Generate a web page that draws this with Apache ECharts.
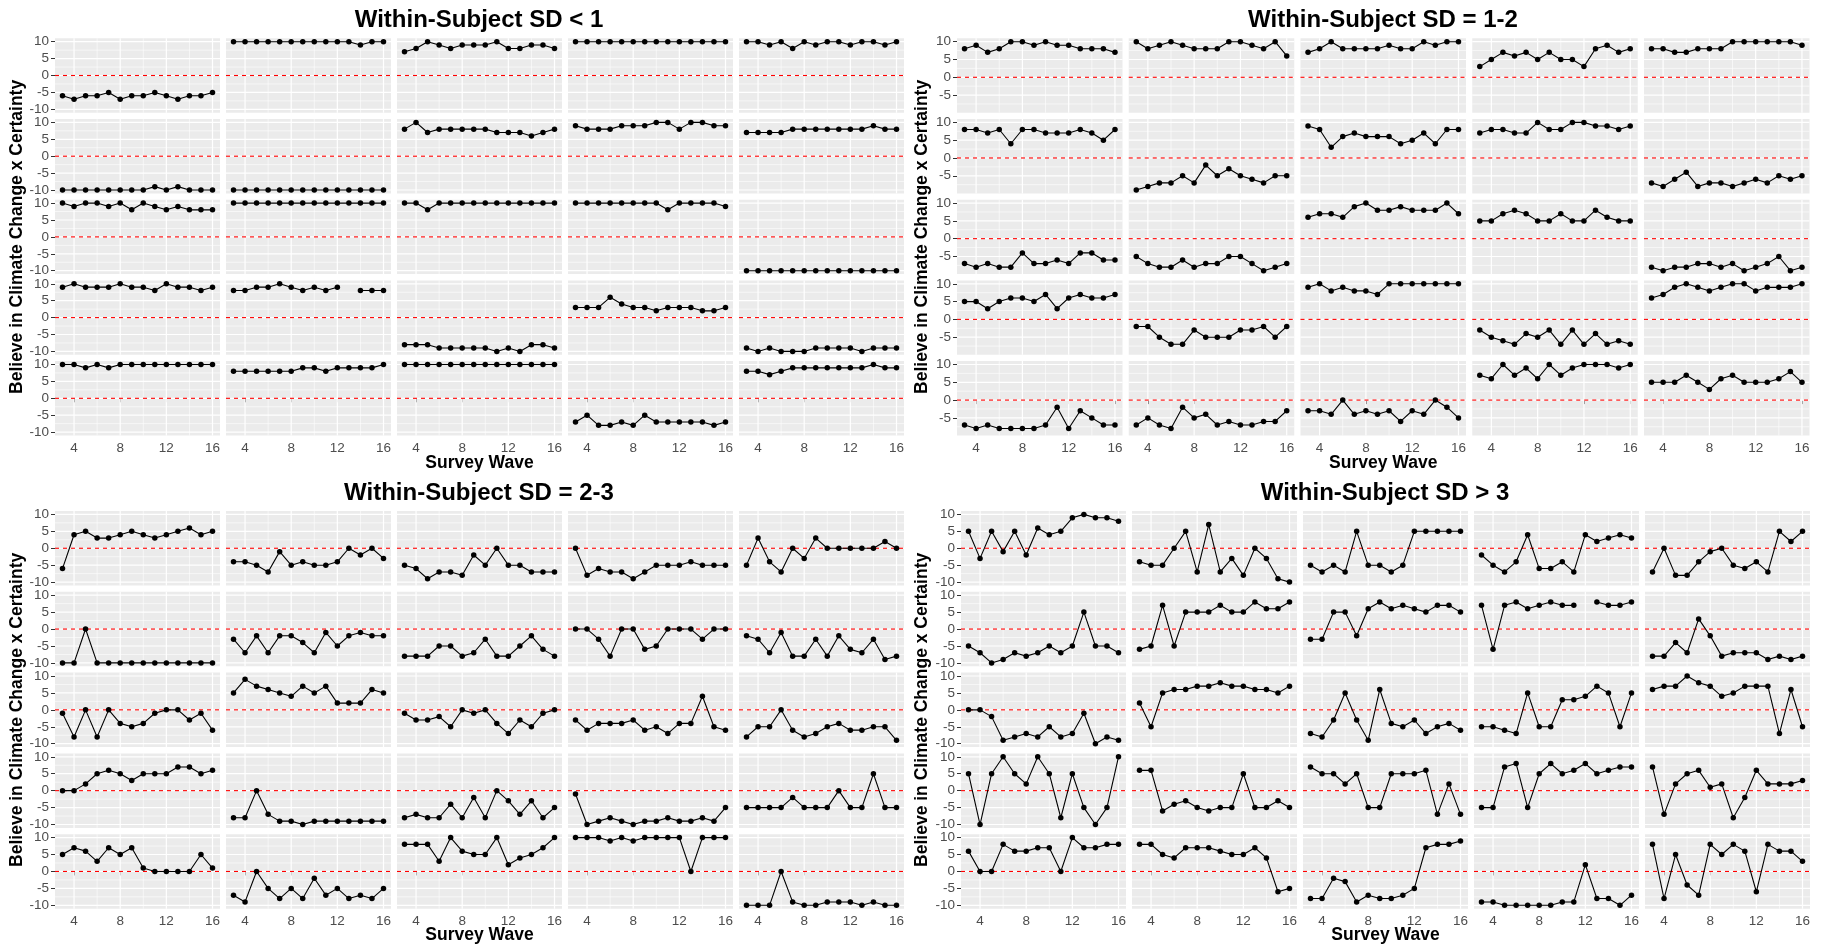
<!DOCTYPE html>
<html>
<head>
<meta charset="utf-8">
<script src="https://cdn.jsdelivr.net/npm/echarts@6/dist/echarts.min.js"></script>
<style>
  html, body { margin: 0; padding: 0; background: #ffffff; }
  #chart { width: 1821px; height: 946px; }
</style>
</head>
<body>
<div id="chart"></div>
<script>
// Survey waves on the x axis
const waves = [3, 4, 5, 6, 7, 8, 9, 10, 11, 12, 13, 14, 15, 16];
const waveTicks = [4, 8, 12, 16];
const waveMinor = [6, 10, 14];

const panelTitles = [
  'Within-Subject SD < 1',
  'Within-Subject SD = 1-2',
  'Within-Subject SD = 2-3',
  'Within-Subject SD > 3'
];
const yTitle = 'Believe in Climate Change x Certainty';
const xTitle = 'Survey Wave';

const yTicksFull = [-10, -5, 0, 5, 10];
const yMinorFull = [-7.5, -2.5, 2.5, 7.5];
const yTicksShort = [-5, 0, 5, 10];
const yMinorShort = [-7.5, -2.5, 2.5, 7.5];

// One row per respondent (5 x 5 facets, row-major), values for waves 3..16
const sdBelow1 = [
  [-6, -7, -6, -6, -5, -7, -6, -6, -5, -6, -7, -6, -6, -5],
  [10, 10, 10, 10, 10, 10, 10, 10, 10, 10, 10, 9, 10, 10],
  [7, 8, 10, 9, 8, 9, 9, 9, 10, 8, 8, 9, 9, 8],
  [10, 10, 10, 10, 10, 10, 10, 10, 10, 10, 10, 10, 10, 10],
  [10, 10, 9, 10, 8, 10, 9, 10, 10, 9, 10, 10, 9, 10],

  [-10, -10, -10, -10, -10, -10, -10, -10, -9, -10, -9, -10, -10, -10],
  [-10, -10, -10, -10, -10, -10, -10, -10, -10, -10, -10, -10, -10, -10],
  [8, 10, 7, 8, 8, 8, 8, 8, 7, 7, 7, 6, 7, 8],
  [9, 8, 8, 8, 9, 9, 9, 10, 10, 8, 10, 10, 9, 9],
  [7, 7, 7, 7, 8, 8, 8, 8, 8, 8, 8, 9, 8, 8],

  [10, 9, 10, 10, 9, 10, 8, 10, 9, 8, 9, 8, 8, 8],
  [10, 10, 10, 10, 10, 10, 10, 10, 10, 10, 10, 10, 10, 10],
  [10, 10, 8, 10, 10, 10, 10, 10, 10, 10, 10, 10, 10, 10],
  [10, 10, 10, 10, 10, 10, 10, 10, 8, 10, 10, 10, 10, 9],
  [-10, -10, -10, -10, -10, -10, -10, -10, -10, -10, -10, -10, -10, -10],

  [9, 10, 9, 9, 9, 10, 9, 9, 8, 10, 9, 9, 8, 9],
  [8, 8, 9, 9, 10, 9, 8, 9, 8, 9, null, 8, 8, 8],
  [-8, -8, -8, -9, -9, -9, -9, -9, -10, -9, -10, -8, -8, -9],
  [3, 3, 3, 6, 4, 3, 3, 2, 3, 3, 3, 2, 2, 3],
  [-9, -10, -9, -10, -10, -10, -9, -9, -9, -9, -10, -9, -9, -9],

  [10, 10, 9, 10, 9, 10, 10, 10, 10, 10, 10, 10, 10, 10],
  [8, 8, 8, 8, 8, 8, 9, 9, 8, 9, 9, 9, 9, 10],
  [10, 10, 10, 10, 10, 10, 10, 10, 10, 10, 10, 10, 10, 10],
  [-7, -5, -8, -8, -7, -8, -5, -7, -7, -7, -7, -7, -8, -7],
  [8, 8, 7, 8, 9, 9, 9, 9, 9, 9, 9, 10, 9, 9]
];

const sd1to2 = [
  [8, 9, 7, 8, 10, 10, 9, 10, 9, 9, 8, 8, 8, 7],
  [10, 8, 9, 10, 9, 8, 8, 8, 10, 10, 9, 8, 10, 6],
  [7, 8, 10, 8, 8, 8, 8, 9, 8, 8, 10, 9, 10, 10],
  [3, 5, 7, 6, 7, 5, 7, 5, 5, 3, 8, 9, 7, 8],
  [8, 8, 7, 7, 8, 8, 8, 10, 10, 10, 10, 10, 10, 9],

  [8, 8, 7, 8, 4, 8, 8, 7, 7, 7, 8, 7, 5, 8],
  [-9, -8, -7, -7, -5, -7, -2, -5, -3, -5, -6, -7, -5, -5],
  [9, 8, 3, 6, 7, 6, 6, 6, 4, 5, 7, 4, 8, 8],
  [7, 8, 8, 7, 7, 10, 8, 8, 10, 10, 9, 9, 8, 9],
  [-7, -8, -6, -4, -8, -7, -7, -8, -7, -6, -7, -5, -6, -5],

  [-7, -8, -7, -8, -8, -4, -7, -7, -6, -7, -4, -4, -6, -6],
  [-5, -7, -8, -8, -6, -8, -7, -7, -5, -5, -7, -9, -8, -7],
  [6, 7, 7, 6, 9, 10, 8, 8, 9, 8, 8, 8, 10, 7],
  [5, 5, 7, 8, 7, 5, 5, 7, 5, 5, 8, 6, 5, 5],
  [-8, -9, -8, -8, -7, -7, -8, -7, -9, -8, -7, -5, -9, -8],

  [5, 5, 3, 5, 6, 6, 5, 7, 3, 6, 7, 6, 6, 7],
  [-2, -2, -5, -7, -7, -3, -5, -5, -5, -3, -3, -2, -5, -2],
  [9, 10, 8, 9, 8, 8, 7, 10, 10, 10, 10, 10, 10, 10],
  [-3, -5, -6, -7, -4, -5, -3, -7, -3, -7, -4, -7, -6, -7],
  [6, 7, 9, 10, 9, 8, 9, 10, 10, 8, 9, 9, 9, 10],

  [-7, -8, -7, -8, -8, -8, -8, -7, -2, -8, -3, -5, -7, -7],
  [-7, -5, -7, -8, -2, -5, -4, -7, -6, -7, -7, -6, -6, -3],
  [-3, -3, -4, 0, -4, -3, -4, -3, -6, -3, -4, 0, -2, -5],
  [7, 6, 10, 7, 9, 6, 10, 7, 9, 10, 10, 10, 9, 10],
  [5, 5, 5, 7, 5, 3, 6, 7, 5, 5, 5, 6, 8, 5]
];

const sd2to3 = [
  [-6, 4, 5, 3, 3, 4, 5, 4, 3, 4, 5, 6, 4, 5],
  [-4, -4, -5, -7, -1, -5, -4, -5, -5, -4, 0, -2, 0, -3],
  [-5, -6, -9, -7, -7, -8, -2, -5, 0, -5, -5, -7, -7, -7],
  [0, -8, -6, -7, -7, -9, -7, -5, -5, -5, -4, -5, -5, -5],
  [-5, 3, -4, -7, 0, -3, 3, 0, 0, 0, 0, 0, 2, 0],

  [-10, -10, 0, -10, -10, -10, -10, -10, -10, -10, -10, -10, -10, -10],
  [-3, -7, -2, -7, -2, -2, -4, -7, -1, -5, -2, -1, -2, -2],
  [-8, -8, -8, -5, -5, -8, -7, -3, -8, -8, -5, -2, -6, -8],
  [0, 0, -3, -8, 0, 0, -6, -5, 0, 0, 0, -3, 0, 0],
  [-2, -3, -7, -1, -8, -8, -3, -8, -2, -6, -7, -3, -9, -8],

  [-1, -8, 0, -8, 0, -4, -5, -4, -1, 0, 0, -3, -1, -6],
  [5, 9, 7, 6, 5, 4, 7, 5, 7, 2, 2, 2, 6, 5],
  [-1, -3, -3, -2, -5, 0, -1, 0, -4, -7, -3, -5, -1, 0],
  [-3, -6, -4, -4, -4, -3, -6, -5, -7, -4, -4, 4, -5, -6],
  [-8, -5, -5, 0, -6, -8, -7, -5, -4, -6, -6, -5, -5, -9],

  [0, 0, 2, 5, 6, 5, 3, 5, 5, 5, 7, 7, 5, 6],
  [-8, -8, 0, -7, -9, -9, -10, -9, -9, -9, -9, -9, -9, -9],
  [-8, -7, -8, -8, -4, -8, -2, -8, 0, -3, -7, -3, -8, -5],
  [-1, -10, -9, -8, -9, -10, -9, -9, -8, -9, -9, -8, -9, -5],
  [-5, -5, -5, -5, -2, -5, -5, -5, 0, -5, -5, 5, -5, -5],

  [5, 7, 6, 3, 7, 5, 7, 1, 0, 0, 0, 0, 5, 1],
  [-7, -9, 0, -5, -8, -5, -8, -2, -7, -5, -8, -7, -8, -5],
  [8, 8, 8, 3, 10, 6, 5, 5, 10, 2, 4, 5, 7, 10],
  [10, 10, 10, 9, 10, 9, 10, 10, 10, 10, 0, 10, 10, 10],
  [-10, -10, -10, 0, -9, -10, -10, -9, -9, -9, -10, -9, -10, -10]
];

const sdAbove3 = [
  [5, -3, 5, -1, 5, -2, 6, 4, 5, 9, 10, 9, 9, 8],
  [-4, -5, -5, 0, 5, -7, 7, -7, -3, -8, 0, -3, -9, -10],
  [-5, -7, -5, -7, 5, -5, -5, -7, -5, 5, 5, 5, 5, 5],
  [-2, -5, -7, -4, 4, -6, -6, -4, -7, 4, 2, 3, 4, 3],
  [-7, 0, -8, -8, -4, -1, 0, -5, -6, -4, -7, 5, 2, 5],

  [-5, -7, -10, -9, -7, -8, -7, -5, -7, -5, 5, -5, -5, -7],
  [-6, -5, 7, -5, 5, 5, 5, 7, 5, 5, 8, 6, 6, 8],
  [-3, -3, 5, 5, -2, 6, 8, 6, 7, 6, 5, 7, 7, 5],
  [7, -6, 7, 8, 6, 7, 8, 7, 7, null, 8, 7, 7, 8],
  [-8, -8, -4, -7, 3, -2, -8, -7, -7, -7, -9, -8, -9, -8],

  [0, 0, -2, -9, -8, -7, -8, -5, -8, -7, -1, -10, -8, -9],
  [2, -5, 5, 6, 6, 7, 7, 8, 7, 7, 6, 6, 5, 7],
  [-7, -8, -3, 5, -3, -9, 6, -4, -5, -3, -7, -5, -4, -6],
  [-5, -5, -6, -7, 5, -5, -5, 3, 3, 4, 7, 5, -5, 5],
  [6, 7, 7, 10, 8, 7, 4, 5, 7, 7, 7, -7, 6, -5],

  [5, -10, 5, 10, 5, 2, 10, 5, -8, 5, -5, -10, -5, 10],
  [6, 6, -6, -4, -3, -5, -6, -5, -5, 5, -5, -5, -3, -5],
  [7, 5, 5, 2, 5, -5, -5, 5, 5, 5, 6, -7, 2, -7],
  [-5, -5, 7, 8, -5, 5, 8, 5, 6, 8, 5, 6, 7, 7],
  [7, -7, 2, 5, 6, 1, 2, -8, -2, 6, 2, 2, 2, 3],

  [6, 0, 0, 8, 6, 6, 7, 7, 0, 10, 7, 7, 8, 8],
  [8, 8, 5, 4, 7, 7, 7, 6, 5, 5, 7, 4, -6, -5],
  [-8, -8, -2, -3, -9, -7, -8, -8, -7, -5, 7, 8, 8, 9],
  [-9, -9, -10, -10, -10, -10, -10, -9, -9, 2, -8, -8, -10, -7],
  [8, -8, 5, -4, -7, 8, 5, 8, 6, -6, 8, 6, 6, 3]
];

// Layout of the four facet blocks (pixel geometry)
const FONT = '"Liberation Sans", Arial, Helvetica, sans-serif';
const X_MIN = 2.35, X_MAX = 16.65;
const blocks = [
  { rows: sdBelow1, left: 55,  top: 38.3, colStep: 171,    w: 165,   rowStep: 80.7, h: 74.4,
    yMin: -11, yMax: 11, yTicks: yTicksFull, yMinor: yMinorFull,
    titleX: 479, titleY: 20, yTitleX: 17, xTitleY: 463 },
  { rows: sd1to2,   left: 957, top: 38.3, colStep: 171.75, w: 165.5, rowStep: 80.7, h: 74.4,
    yMin: -9.95, yMax: 10.95, yTicks: yTicksShort, yMinor: yMinorShort,
    titleX: 1383, titleY: 20, yTitleX: 922, xTitleY: 463 },
  { rows: sd2to3,   left: 55,  top: 511,  colStep: 171,    w: 165,   rowStep: 80.8, h: 74.5,
    yMin: -11, yMax: 11, yTicks: yTicksFull, yMinor: yMinorFull,
    titleX: 479, titleY: 493, yTitleX: 17, xTitleY: 935 },
  { rows: sdAbove3, left: 961, top: 511,  colStep: 171,    w: 165,   rowStep: 80.8, h: 74.5,
    yMin: -11, yMax: 11, yTicks: yTicksFull, yMinor: yMinorFull,
    titleX: 1385, titleY: 493, yTitleX: 922, xTitleY: 935 }
];

const grid = [], xAxis = [], yAxis = [], series = [], graphic = [];

blocks.forEach((b, bi) => {
  b.rows.forEach((vals, k) => {
    const r = Math.floor(k / 5), c = k % 5;
    const gi = grid.length;
    const bottomRow = r === 4, firstCol = c === 0;
    grid.push({
      left: b.left + c * b.colStep,
      top: b.top + r * b.rowStep,
      width: b.w,
      height: b.h,
      show: true,
      backgroundColor: '#EBEBEB',
      borderWidth: 0,
      containLabel: false
    });
    xAxis.push({
      gridIndex: gi, type: 'value', min: X_MIN, max: X_MAX,
      axisLine: { show: false },
      splitLine: { show: false },
      axisTick: { show: bottomRow, customValues: waveTicks, length: 4, lineStyle: { color: '#333333', width: 1 } },
      axisLabel: { show: bottomRow, customValues: waveTicks, color: '#4D4D4D', fontSize: 13.5, margin: 6, fontFamily: FONT }
    });
    yAxis.push({
      gridIndex: gi, type: 'value', min: b.yMin, max: b.yMax,
      axisLine: { show: false },
      splitLine: { show: false },
      axisTick: { show: firstCol, customValues: b.yTicks, length: 4, lineStyle: { color: '#333333', width: 1 } },
      axisLabel: { show: firstCol, customValues: b.yTicks, color: '#4D4D4D', fontSize: 13.5, margin: 6, fontFamily: FONT }
    });

    // panel grid lines and the dashed zero reference, placed through the axis scales
    series.push({
      type: 'custom', xAxisIndex: gi, yAxisIndex: gi, silent: true, z: 1,
      data: [[X_MIN, b.yMin]],
      renderItem: (params, api) => {
        const kids = [];
        const seg = (a, bb, width, color, dash) => kids.push({
          type: 'line',
          shape: { x1: a[0], y1: a[1], x2: bb[0], y2: bb[1] },
          style: { stroke: color, lineWidth: width, lineDash: dash || null }
        });
        b.yMinor.forEach(y => seg(api.coord([X_MIN, y]), api.coord([X_MAX, y]), 0.6, '#FFFFFF'));
        waveMinor.forEach(x => seg(api.coord([x, b.yMin]), api.coord([x, b.yMax]), 0.6, '#FFFFFF'));
        b.yTicks.forEach(y => seg(api.coord([X_MIN, y]), api.coord([X_MAX, y]), 1.2, '#FFFFFF'));
        waveTicks.forEach(x => seg(api.coord([x, b.yMin]), api.coord([x, b.yMax]), 1.2, '#FFFFFF'));
        seg(api.coord([X_MIN, 0]), api.coord([X_MAX, 0]), 1.1, '#FF0000', [4, 4]);
        return { type: 'group', children: kids };
      }
    });

    series.push({
      type: 'line', xAxisIndex: gi, yAxisIndex: gi, z: 3,
      data: waves.map((w, i) => [w, vals[i] === null ? '-' : vals[i]]),
      connectNulls: false,
      symbol: 'circle', symbolSize: 5.5, showSymbol: true,
      itemStyle: { color: '#000000' },
      lineStyle: { color: '#000000', width: 1.1 },
      emphasis: { disabled: true },
      silent: true
    });
  });

  graphic.push({
    type: 'text', x: b.titleX, y: b.titleY,
    style: { text: panelTitles[bi], font: 'bold 24px ' + FONT, fill: '#000000',
             align: 'center', verticalAlign: 'middle', textAlign: 'center', textVerticalAlign: 'middle' }
  });
  const plotMidY = b.top + (4 * b.rowStep + b.h) / 2;
  graphic.push({
    type: 'text', x: b.yTitleX, y: plotMidY, rotation: Math.PI / 2,
    style: { text: yTitle, font: 'bold 17.5px ' + FONT, fill: '#000000',
             align: 'center', verticalAlign: 'middle', textAlign: 'center', textVerticalAlign: 'middle' }
  });
  const plotMidX = b.left + (4 * b.colStep + b.w) / 2;
  graphic.push({
    type: 'text', x: plotMidX, y: b.xTitleY,
    style: { text: xTitle, font: 'bold 17.5px ' + FONT, fill: '#000000',
             align: 'center', verticalAlign: 'middle', textAlign: 'center', textVerticalAlign: 'middle' }
  });
});

const chart = echarts.init(document.getElementById('chart'), null, { renderer: 'canvas', width: 1821, height: 946 });
chart.setOption({
  backgroundColor: '#FFFFFF',
  animation: false,
  tooltip: { show: false },
  grid, xAxis, yAxis, series, graphic
});
</script>
</body>
</html>
